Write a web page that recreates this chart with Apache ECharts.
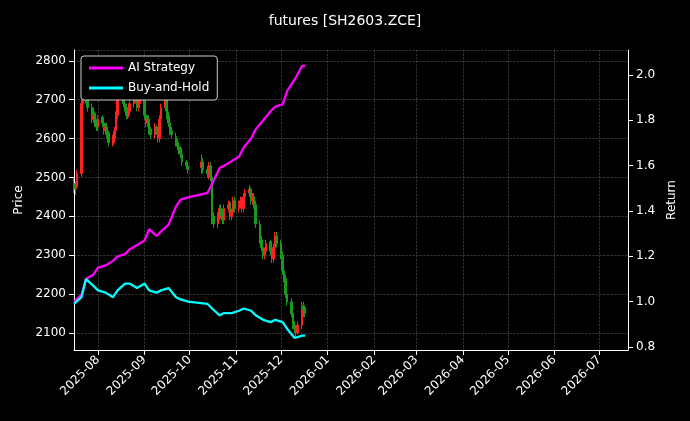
<!DOCTYPE html>
<html><head><meta charset="utf-8">
<script src="https://cdn.jsdelivr.net/npm/echarts@6/dist/echarts.min.js"></script>
<style>html,body{margin:0;background:#000}#c{width:690px;height:421px}</style>
</head><body><div id="c"></div>
<script>
// trading dates: Jul 16 2025 .. Dec 17 2025 (weekends and Oct 1-8 holiday skipped)
const holidays = ['2025-10-01','2025-10-02','2025-10-03','2025-10-06','2025-10-07','2025-10-08'];
const dates = [];
for (let d = new Date(Date.UTC(2025,6,16)); d <= new Date(Date.UTC(2025,11,17)); d.setUTCDate(d.getUTCDate()+1)) {
  const s = d.toISOString().slice(0,10), w = d.getUTCDay();
  if (w !== 0 && w !== 6 && holidays.indexOf(s) < 0) dates.push(s);
}
const closes = [2480,2470,2510,2690,2720,2740,2700,2680,2650,2660,2640,2630,
 2650,2640,2620,2630,2610,2590,2600,2620,2660,2700,2720,2690,2680,2660,2670,2690,2700,2710,2680,2690,2700,
 2660,2640,2650,2620,2610,2630,2620,2600,2650,2680,2700,2660,2640,2620,2610,2590,2580,2570,2560,2540,2530,2520,
 2540,2520,2510,2530,2500,2400,2380,2400,2420,2410,2390,2420,2430,2400,2410,2440,2420,
 2430,2440,2420,2450,2460,2470,2440,2450,2430,2380,2340,2320,2300,2310,2330,2310,2290,2320,2350,2330,
 2300,2260,2240,2200,2180,2150,2120,2110,2100,2120,2170,2160,2150];
const opens = [2470,2485,2475,2510,2690,2720,2745,2700,2680,2650,2665,2640,
 2630,2655,2640,2620,2630,2615,2585,2600,2620,2660,2700,2725,2690,2680,2655,2670,2690,2700,2715,2680,2690,
 2700,2660,2640,2650,2625,2610,2630,2620,2600,2650,2680,2700,2660,2640,2620,2605,2590,2580,2575,2560,2540,2530,
 2525,2540,2520,2505,2530,2500,2400,2380,2395,2420,2410,2390,2420,2435,2400,2410,2440,
 2420,2430,2445,2420,2450,2460,2470,2440,2450,2430,2380,2340,2320,2300,2310,2335,2310,2290,2320,2350,
 2330,2300,2260,2240,2200,2180,2150,2120,2110,2100,2120,2170,2165];
const highs = [2500,2490,2520,2700,2740,2760,2750,2710,2690,2680,2670,2650,
 2660,2660,2645,2640,2640,2620,2610,2630,2670,2710,2730,2730,2700,2690,2680,2700,2710,2720,2720,2700,2710,
 2710,2670,2660,2660,2630,2640,2635,2625,2660,2690,2710,2705,2670,2650,2630,2615,2600,2590,2580,2565,2545,2540,
 2560,2550,2530,2540,2540,2510,2410,2410,2430,2430,2420,2430,2440,2440,2420,2450,2450,
 2440,2450,2450,2460,2470,2480,2475,2460,2460,2440,2390,2350,2330,2320,2340,2340,2320,2330,2360,2360,
 2340,2310,2270,2250,2210,2190,2160,2130,2120,2130,2180,2180,2170];
const lows = [2460,2455,2470,2500,2680,2710,2690,2670,2640,2640,2630,2620,
 2620,2630,2610,2610,2600,2580,2580,2590,2610,2650,2690,2680,2670,2650,2650,2660,2680,2690,2670,2670,2680,
 2650,2630,2630,2610,2600,2600,2610,2590,2590,2640,2670,2650,2630,2610,2600,2580,2570,2560,2550,2530,2520,2510,
 2510,2510,2500,2495,2490,2380,2370,2370,2390,2400,2380,2380,2410,2390,2390,2400,2410,
 2410,2420,2410,2410,2440,2450,2430,2430,2420,2370,2330,2310,2290,2290,2300,2300,2280,2280,2310,2320,
 2290,2250,2230,2190,2170,2140,2110,2100,2090,2095,2110,2140,2140];
// return series, sampled every 3rd trading day plus the last day
const retIdx = [0,3,6,9,12,15,18,21,24,27,30,33,36,39,42,45,48,51,54,57,60,63,66,69,72,75,78,81,84,87,90,93,96,99,102,104];
const aiStrategy = [1.00,1.03,1.10,1.12,1.15,1.16,1.18,1.20,1.21,1.23,1.25,1.27,1.32,1.29,1.31,1.34,1.42,1.45,1.46,1.48,1.52,1.59,1.60,1.62,1.64,1.68,1.72,1.76,1.80,1.84,1.86,1.87,1.93,1.98,2.04,2.04];
const buyHold = [0.99,1.02,1.10,1.07,1.05,1.04,1.02,1.05,1.08,1.08,1.06,1.08,1.05,1.04,1.05,1.06,1.02,1.01,1.00,0.99,0.97,0.94,0.95,0.95,0.96,0.97,0.96,0.94,0.92,0.91,0.92,0.91,0.88,0.84,0.85,0.85];

const candle = dates.map((d,i)=>[d,opens[i],closes[i],lows[i],highs[i]]);
const ai = retIdx.map((k,i)=>[dates[k],aiStrategy[i]]);
const bh = retIdx.map((k,i)=>[dates[k],buyHold[i]]);
const grid = {type:'dashed',color:'#555',width:0.6};
const font = 'DejaVu Sans';
const chart = echarts.init(document.getElementById('c'));
chart.setOption({
  backgroundColor:'#000',
  animation:false,
  textStyle:{fontFamily:font},
  title:{text:'futures [SH2603.ZCE]',left:'center',top:9,textStyle:{color:'#fff',fontSize:14,fontWeight:'normal',fontFamily:font}},
  grid:{left:74,right:62,top:50,bottom:71},
  legend:{left:81,top:56,orient:'vertical',itemWidth:34,itemHeight:3,itemGap:8,padding:[6,8],
    backgroundColor:'#000',borderColor:'#ccc',borderWidth:1,borderRadius:3,
    textStyle:{color:'#fff',fontSize:12,fontFamily:font},
    data:[{name:'AI Strategy',icon:'rect'},{name:'Buy-and-Hold',icon:'rect'}]},
  xAxis:{type:'time',min:'2025-07-16',max:'2026-07-20',splitNumber:12,
    axisLine:{lineStyle:{color:'#fff'}},axisTick:{lineStyle:{color:'#fff'}},
    axisLabel:{color:'#fff',rotate:45,fontSize:12,formatter:'{yyyy}-{MM}',showMinLabel:false,showMaxLabel:false,hideOverlap:false},
    splitLine:{show:true,lineStyle:grid}},
  yAxis:[
    {type:'value',min:2056,max:2828,splitNumber:8,name:'Price',nameLocation:'middle',nameGap:48,
     nameTextStyle:{color:'#fff',fontSize:12},
     axisLine:{show:true,lineStyle:{color:'#fff'}},axisTick:{show:true},
     axisLabel:{color:'#fff',fontSize:12,showMinLabel:false,showMaxLabel:false,formatter:v=>String(v)},splitLine:{lineStyle:grid}},
    {type:'value',min:0.787,max:2.11,splitNumber:7,name:'Return',nameLocation:'middle',nameGap:38,
     nameTextStyle:{color:'#fff',fontSize:12},
     axisLine:{show:true,lineStyle:{color:'#fff'}},axisTick:{show:true},
     axisLabel:{color:'#fff',fontSize:12,showMinLabel:false,showMaxLabel:false,formatter:v=>v.toFixed(1)},splitLine:{show:false}}
  ],
  series:[
    {type:'candlestick',name:'price',data:candle,barWidth:2,
     itemStyle:{color:'#ff2020',color0:'#1a9a1a',borderColor:'#ff2020',borderColor0:'#1a9a1a',borderWidth:1}},
    {type:'line',name:'AI Strategy',yAxisIndex:1,data:ai,showSymbol:false,lineStyle:{color:'#ff00ff',width:2.3},itemStyle:{color:'#ff00ff'}},
    {type:'line',name:'Buy-and-Hold',yAxisIndex:1,data:bh,showSymbol:false,lineStyle:{color:'#00ffff',width:2.3},itemStyle:{color:'#00ffff'}}
  ]
});
</script></body></html>
